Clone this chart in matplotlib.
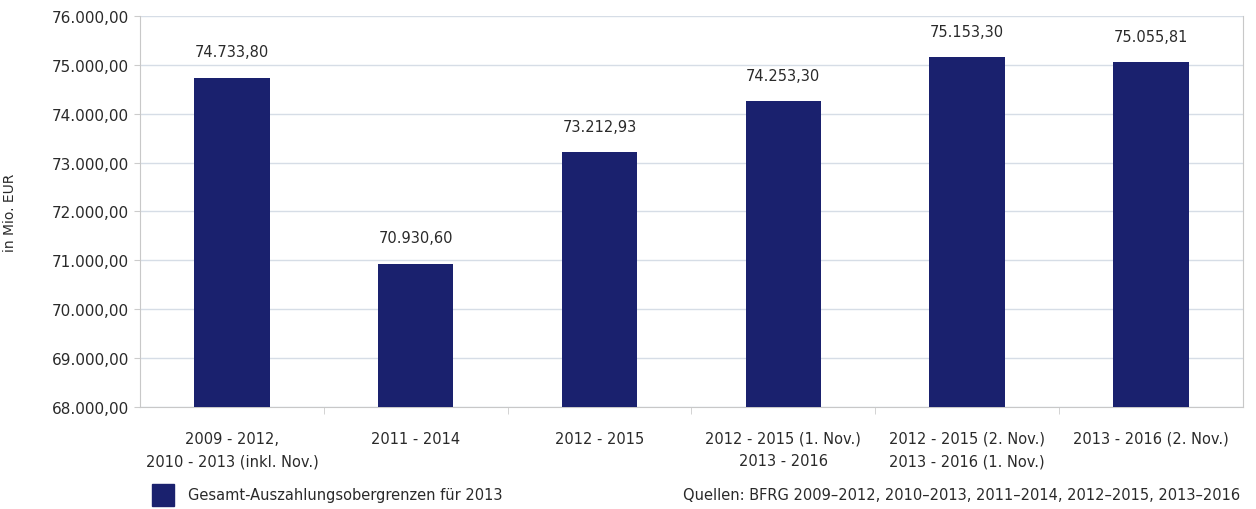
import numpy as np
import matplotlib.pyplot as plt
from matplotlib.patches import Rectangle

plt.rcParams['font.family'] = ['DejaVu Sans']

categories = ['2009 - 2012,\n2010 - 2013 (inkl. Nov.)', '2011 - 2014', '2012 - 2015',
              '2012 - 2015 (1. Nov.)\n2013 - 2016', '2012 - 2015 (2. Nov.)\n2013 - 2016 (1. Nov.)',
              '2013 - 2016 (2. Nov.)']
values = [74733.80, 70930.60, 73212.93, 74253.30, 75153.30, 75055.81]
yticks = [68000, 69000, 70000, 71000, 72000, 73000, 74000, 75000, 76000]
legend_label = 'Gesamt-Auszahlungsobergrenzen für 2013'
source = 'Quellen: BFRG 2009–2012, 2010–2013, 2011–2014, 2012–2015, 2013–2016'

bar_color = '#1a216e'
text_color = '#2a2a2a'


def de_fmt(v):
    s = '{:,.2f}'.format(v)
    return s.replace(',', 'X').replace('.', ',').replace('X', '.')


fig = plt.figure(figsize=(12.56, 5.10), dpi=100)
ax = fig.add_axes([0.1115, 0.2, 0.878, 0.7667])

x = np.arange(len(categories))
ax.bar(x, values, width=0.41, color=bar_color, zorder=3)
for xi, v in zip(x, values):
    ax.text(xi, v + 380, de_fmt(v), ha='center', va='bottom', fontsize=10.5, color=text_color)

ax.set_xlim(-0.5, len(categories) - 0.5)
ax.set_ylim(68000, 76000)
ax.set_yticks(yticks)
ax.set_yticklabels([de_fmt(t) for t in yticks], fontsize=11, color=text_color)
ax.set_xticks(x)
ax.set_xticklabels(categories, fontsize=10.5, color=text_color, linespacing=1.65)
ax.tick_params(axis='x', length=0, pad=17)
ax.tick_params(axis='y', length=4, color='#cccccc', pad=4)
ax.set_xticks(np.arange(0.5, len(categories) - 0.5), minor=True)
ax.tick_params(axis='x', which='minor', length=5, color='#cccccc')

ax.grid(axis='y', color='#d6dde6', linewidth=1, zorder=0)
ax.spines['top'].set_visible(False)
for side in ['left', 'right', 'bottom']:
    ax.spines[side].set_color('#c8c8c8')

ax.set_ylabel('in Mio. EUR', fontsize=10, color=text_color)
ax.yaxis.set_label_coords(-0.112, 0.5)

fig.patches.append(Rectangle((152 / 1256, 1 - 507 / 510), 22 / 1256, 22 / 510,
                             transform=fig.transFigure, color=bar_color))
fig.text(188 / 1256, 1 - 496 / 510, legend_label, fontsize=10.5, va='center', color=text_color)
fig.text(1240 / 1256, 1 - 496 / 510, source, fontsize=10.5, va='center', ha='right', color=text_color)

fig.savefig('out.png', dpi=100)
